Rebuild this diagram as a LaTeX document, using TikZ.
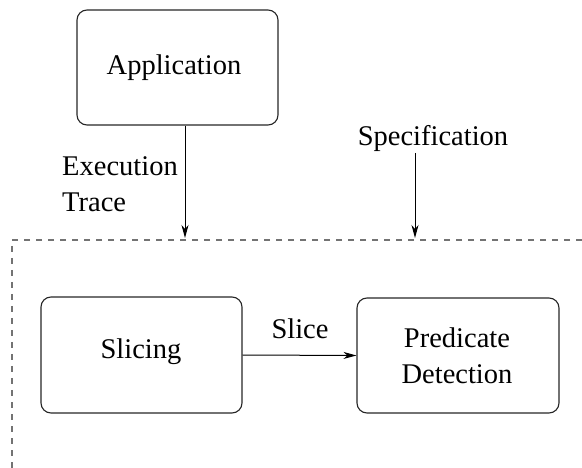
\documentclass[tikz,border=0pt]{standalone}
\usepackage{fontspec}
\setmainfont{Liberation Serif}
\usetikzlibrary{arrows.meta}
\begin{document}
\begin{tikzpicture}[x=1pt,y=-1pt,
  every node/.style={font=\fontsize{28.5}{36.5}\selectfont},
  block/.style={draw=black!85,line width=1.1pt,rounded corners=10pt,inner sep=0pt},
  label/.style={inner sep=0pt},
  flow/.style={line width=1pt,-{Stealth[length=13pt,width=7pt,inset=4pt]}},
  border/.style={draw=black!55,line width=1.2pt,dash pattern=on 6pt off 6pt}]
  \useasboundingbox (0,0) rectangle (582,468);

  % boxes
  \node[block,minimum width=201pt,minimum height=115pt] (app) at (177.5,67.5) {};
  \node[label] (apptxt) at (174,68) {Application};
  \node[block,minimum width=201pt,minimum height=116pt] (slicing) at (141.5,355) {};
  \node[label] (slicetxt) at (141,352) {Slicing};
  \node[block,minimum width=202pt,minimum height=115pt] (pred) at (458,355.5) {};
  \node[label,align=center] (predtxt) at (457,356) {Predicate\\Detection};

  % labels
  \node[label,align=left,anchor=west] (trace) at (62,184) {Execution\\Trace};
  \node[label,anchor=base] (spec) at (433,146) {Specification};
  \node[label,anchor=base] (slicelbl) at (300,338) {Slice};

  % region boundary
  \coordinate (bl) at (12,468);
  \coordinate (tl) at (12,240);
  \coordinate (tr) at (582,240);
  \draw[border] (tr) -- (tl) -- (bl);

  % inputs
  \coordinate (tracein) at (185,238);
  \coordinate (specfrom) at (415,153);
  \coordinate (specin) at (415,238);
  \draw[flow] (app.south -| tracein) -- (tracein);
  \draw[flow] (specfrom) -- (specin);
  \draw[flow] (slicing.east) -- (pred.west);
\end{tikzpicture}
\end{document}
